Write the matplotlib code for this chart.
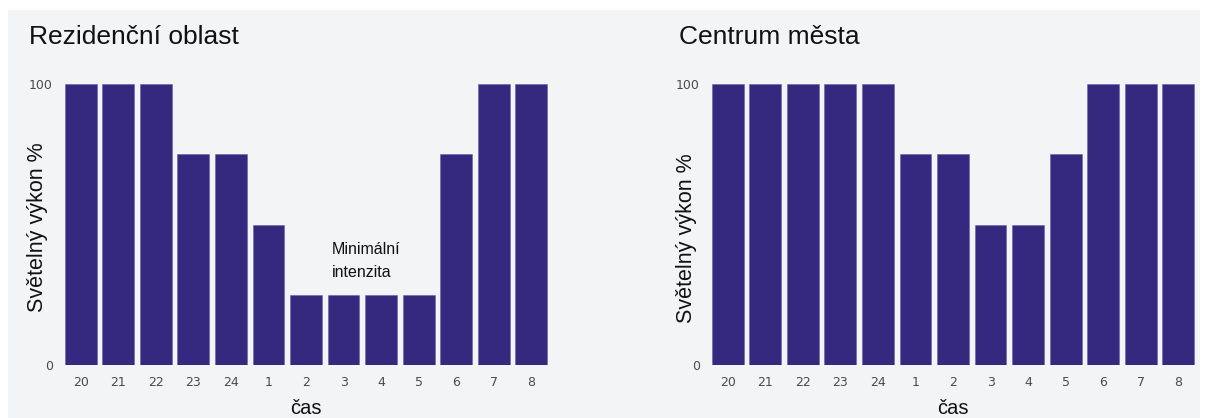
import matplotlib
matplotlib.use("Agg")
import matplotlib.pyplot as plt
from matplotlib.patches import Rectangle

hours = ["20", "21", "22", "23", "24", "1", "2", "3", "4", "5", "6", "7", "8"]
residential = [100, 100, 100, 75, 75, 50, 25, 25, 25, 25, 75, 100, 100]
center = [100, 100, 100, 100, 100, 75, 75, 50, 50, 75, 100, 100, 100]
titles = ["Rezidenční oblast", "Centrum města"]
ylabel = "Světelný výkon %"
xlabel = "čas"
note = "Minimální\nintenzita"

BAR = "#35287f"
BG = "#f3f4f6"
W, H = 1205, 418

fig = plt.figure(figsize=(W / 100, H / 100), dpi=100)
fig.patch.set_facecolor("white")
fig.patches.append(Rectangle((8 / W, 0), (1200 - 8) / W, (418 - 10) / H,
                             transform=fig.transFigure, facecolor=BG,
                             edgecolor="none", zorder=-10))

def make(ax_left_px, ax_right_px, data, title, title_x_px, ylab_pos, annotate=False):
    left = ax_left_px / W
    width = (ax_right_px - ax_left_px) / W
    bottom = 1 - 365 / H
    height = (365 - 84) / H
    ax = fig.add_axes([left, bottom, width, height])
    ax.set_facecolor("none")
    x = list(range(len(hours)))
    ax.bar(x, data, width=0.85, color=BAR, edgecolor="#6b5fb0", linewidth=0.4)
    ax.set_xlim(-0.5, len(hours) - 0.5)
    ax.set_ylim(0, 100)
    ax.set_xticks(x)
    ax.set_xticklabels(hours)
    ax.set_yticks([0, 100])
    ax.set_yticklabels(["0", "100"])
    ax.tick_params(axis="both", length=0, labelsize=9, colors="#4a4a4a")
    ax.tick_params(axis="x", pad=8)
    ax.tick_params(axis="y", pad=6.5)
    for s in ax.spines.values():
        s.set_visible(False)
    ax.set_xlabel(xlabel, fontsize=14.5, family="Liberation Sans", color="#111111", labelpad=7)
    ax.set_ylabel(ylabel, fontsize=15.5, family="Liberation Sans", color="#111111")
    ax.yaxis.set_label_coords(*ylab_pos)
    fig.text(title_x_px / W, 1 - 37 / H, title, fontsize=19, family="Liberation Sans",
             color="#111111", va="center", ha="left")
    if annotate:
        ax.text(6.68, 37.0, note, fontsize=11.5, family="Liberation Sans", color="#111111",
                ha="left", va="center", linespacing=1.7)
    return ax

make(62, 550, residential, titles[0], 29, (-0.029, 0.49), annotate=True)
make(709, 1197, center, titles[1], 679, (-0.024, 0.45))

fig.savefig("out.png", dpi=100, facecolor=fig.get_facecolor())
